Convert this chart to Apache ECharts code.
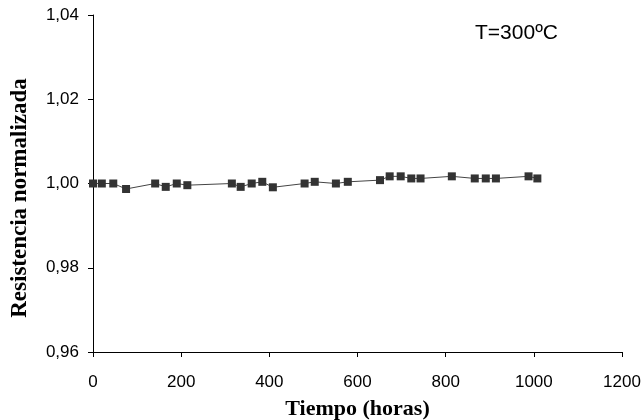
<!DOCTYPE html>
<html><head><meta charset="utf-8">
<script src="https://cdn.jsdelivr.net/npm/echarts@6/dist/echarts.min.js"></script>
<style>html,body{margin:0;padding:0;background:#fff}#c{width:643px;height:420px}</style>
</head><body><div id="c"></div>
<script>
const hours = [0, 20, 46, 75, 141, 165, 190, 214, 315, 335, 360, 384, 408, 480, 503, 551, 578, 651, 673, 698, 722, 743, 814, 866, 891, 914, 988, 1008];
const resistance = [1.000, 1.000, 1.000, 0.9987, 1.000, 0.9992, 1.000, 0.9996, 1.000, 0.9992, 1.000, 1.0004, 0.9991, 1.000, 1.0004, 1.000, 1.0004, 1.0008, 1.0017, 1.0017, 1.0012, 1.0012, 1.0017, 1.0012, 1.0012, 1.0012, 1.0017, 1.0012];
const xTicks = [0, 200, 400, 600, 800, 1000, 1200];
const yTicks = [0.96, 0.98, 1.00, 1.02, 1.04];
const label = 'T=300ºC';

const chart = echarts.init(document.getElementById('c'));
chart.setOption({
  animation: false,
  grid: {left: 93, right: 21, top: 15, bottom: 68, outerBoundsMode: 'none', containLabel: false},
  graphic: [{type: 'text', left: 475, top: 23, style: {text: label, font: '21px "Liberation Sans", Arial', fill: '#000'}}],
  xAxis: {
    type: 'value', min: xTicks[0], max: xTicks[xTicks.length - 1], interval: 200,
    name: 'Tiempo (horas)', nameLocation: 'middle', nameGap: 46,
    nameTextStyle: {fontFamily: '"Liberation Serif", "Times New Roman", serif', fontWeight: 'bold', fontSize: 22, color: '#000'},
    axisLine: {lineStyle: {color: '#000', width: 1}},
    axisTick: {show: true, length: 5, lineStyle: {color: '#000'}},
    axisLabel: {color: '#000', fontSize: 17, fontFamily: '"Liberation Sans", Arial', margin: 22,
      formatter: v => String(v)},
    splitLine: {show: false}
  },
  yAxis: {
    type: 'value', min: yTicks[0], max: yTicks[yTicks.length - 1], interval: 0.02,
    name: 'Resistencia normalizada', nameLocation: 'middle', nameGap: 61,
    nameTextStyle: {fontFamily: '"Liberation Serif", "Times New Roman", serif', fontWeight: 'bold', fontSize: 23, color: '#000', padding: [0, 29, 0, 0]},
    axisLine: {show: true, lineStyle: {color: '#000', width: 1}},
    axisTick: {show: true, length: 5, lineStyle: {color: '#000'}},
    axisLabel: {color: '#000', fontSize: 17, fontFamily: '"Liberation Sans", Arial', margin: 14,
      formatter: v => v.toFixed(2).replace('.', ',')},
    splitLine: {show: false}
  },
  series: [{
    type: 'line',
    data: hours.map((h, i) => [h, resistance[i]]),
    symbol: 'rect', symbolSize: 8,
    itemStyle: {color: '#333'},
    lineStyle: {color: '#444', width: 1}
  }]
});
</script></body></html>
